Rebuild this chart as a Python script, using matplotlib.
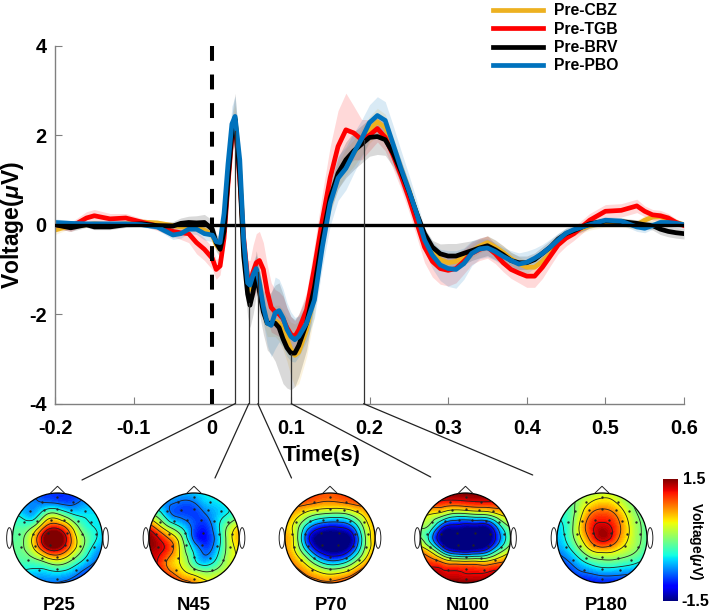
import numpy as np
import matplotlib
matplotlib.use("Agg")
import matplotlib.pyplot as plt
from matplotlib.patches import Circle, ConnectionPatch, Ellipse, Polygon
from matplotlib.tri import Triangulation, UniformTriRefiner

plt.rcParams['font.family'] = ['Liberation Sans', 'DejaVu Sans']
plt.rcParams['font.weight'] = 'bold'
plt.rcParams['mathtext.fontset'] = 'custom'
plt.rcParams['mathtext.it'] = 'Liberation Sans:italic:bold'
plt.rcParams['mathtext.rm'] = 'Liberation Sans:bold'

TIME = [-.2, -.18, -.16, -.15, -.13, -.11, -.09, -.07, -.05, -.04, -.03, -.02, -.01,
        0, .005, .01, .015, .02, .025, .029,
        .035, .04, .045, .048, .052, .056, .06,
        .065, .07, .075, .08, .085, .09, .095,
        .10, .105, .11, .12, .13, .14, .15,
        .16, .17, .18, .19, .20, .21, .22,
        .23, .24, .25, .26, .27, .28, .29,
        .30, .31, .32, .33, .34, .35, .36,
        .37, .38, .39, .40, .41, .42, .43,
        .44, .45, .46, .48, .50, .52, .54,
        .55, .56, .57, .58, .59, .60]

CBZ = [-.12, -.02, 0, .02, .0, .02, .06, .04, -.02, -.05, -.06, -.08, -.12,
       -.22, -.45, -.55, -.1, 1.1, 2.1, 2.38,
       1.2, -.4, -1.3, -1.45, -1.2, -1.0, -1.3,
       -1.9, -2.2, -2.2, -2.15, -2.2, -2.35, -2.55,
       -2.78, -2.92, -2.85, -2.35, -1.55, -.4, .55,
       1.1, 1.4, 1.6, 1.85, 2.12, 2.3, 2.17,
       1.72, 1.25, .78, .25, -.3, -.6, -.78,
       -.85, -.82, -.72, -.6, -.48, -.4, -.5,
       -.62, -.76, -.87, -.95, -.95, -.82, -.65,
       -.4, -.25, -.15, -.02, .05, .05, .0,
       .1, .17, .18, .12, .05, .0]
TGB = [.0, -.05, .15, .2, .13, .15, .06, -.03, -.15, -.18, -.2, -.4, -.55,
       -.75, -1.0, -.92, -.3, .9, 1.95, 2.33,
       1.0, -.3, -1.2, -1.3, -1.05, -.85, -.8,
       -1.0, -1.5, -1.85, -1.95, -2.0, -2.1, -2.3,
       -2.45, -2.5, -2.35, -1.9, -.95, .1, 1.05,
       1.75, 2.12, 2.05, 1.9, 2.0, 2.15, 1.95,
       1.55, 1.1, .6, .05, -.5, -.82, -.98,
       -1.02, -.98, -.82, -.64, -.55, -.5, -.65,
       -.85, -1.0, -1.08, -1.15, -1.15, -.95, -.7,
       -.45, -.3, -.2, .1, .3, .32, .42,
       .3, .22, .2, .15, .05, -.02]
BRV = [.0, -.07, .0, -.05, -.05, .0, .02, -.02, -.03, .03, .05, .04, .05,
       -.1, -.4, -.55, -.15, 1.0, 2.05, 2.36,
       1.1, -.7, -1.55, -1.8, -1.5, -1.08, -1.5,
       -1.95, -2.2, -2.2, -2.2, -2.3, -2.55, -2.75,
       -2.87, -2.87, -2.7, -2.2, -1.4, -.3, .6,
       1.15, 1.45, 1.65, 1.8, 1.95, 1.97, 1.9,
       1.6, 1.2, .75, .25, -.2, -.5, -.65,
       -.7, -.7, -.64, -.58, -.52, -.47, -.56,
       -.67, -.8, -.85, -.85, -.78, -.64, -.5,
       -.32, -.2, -.13, .02, .08, .07, .03,
       .0, -.02, -.1, -.15, -.18, -.2]
PBO = [.05, .03, .02, .02, .02, .02, .0, -.05, -.23, -.2, -.1, -.1, -.2,
       -.23, -.38, -.4, .25, 1.35, 2.25, 2.42,
       1.45, -.35, -1.3, -1.35, -1.12, -.98, -1.3,
       -1.83, -2.2, -2.25, -1.97, -1.92, -2.08, -2.34,
       -2.5, -2.57, -2.5, -2.2, -1.68, -.5, .48,
       1.04, 1.26, 1.6, 1.92, 2.28, 2.44, 2.33,
       1.8, 1.26, .77, .25, -.34, -.68, -.9,
       -.98, -1.0, -.87, -.64, -.54, -.52, -.6,
       -.71, -.8, -.88, -.84, -.75, -.64, -.5,
       -.34, -.19, -.11, .0, .1, .08, -.05,
       -.08, -.02, .05, .05, .03, .0]

ERR_CBZ = [.1, .06, .06, .06, .05, .06, .06, .06, .06, .06, .07, .08, .1,
           .12, .12, .12, .12, .2, .25, .3,
           .3, .3, .3, .3, .3, .3, .3,
           .3, .3, .3, .35, .4, .45, .5,
           .6, .7, .7, .6, .45, .3, .3,
           .3, .3, .3, .3, .3, .3, .3,
           .25, .2, .15, .12, .12, .12, .15,
           .15, .15, .15, .15, .15, .15, .15,
           .15, .15, .15, .15, .15, .12, .12,
           .1, .1, .1, .1, .1, .1, .1,
           .1, .1, .1, .1, .08, .06]
ERR_TGB = [.08, .1, .14, .14, .12, .1, .08, .1, .12, .15, .2, .25, .25,
           .25, .22, .2, .2, .2, .2, .2,
           .2, .3, .4, .5, .6, .65, .65,
           .6, .6, .55, .5, .5, .5, .45,
           .4, .35, .35, .4, .5, .6, .7,
           .8, .82, .6, .45, .35, .3, .3,
           .3, .3, .3, .32, .35, .35, .35,
           .35, .32, .28, .25, .25, .25, .22,
           .2, .2, .22, .25, .25, .25, .22,
           .2, .18, .15, .15, .15, .15, .15,
           .12, .12, .12, .1, .08, .06]
ERR_BRV = [.08, .08, .06, .06, .06, .06, .06, .08, .1, .12, .14, .16, .18,
           .2, .2, .18, .2, .25, .4, .58,
           .5, .5, .5, .5, .5, .5, .5,
           .5, .6, .7, .85, 1.0, 1.0, .9,
           .82, .75, .7, .6, .4, .3, .3,
           .35, .4, .42, .42, .42, .4, .35,
           .3, .25, .2, .15, .12, .15, .22,
           .28, .28, .25, .22, .22, .22, .22,
           .2, .18, .15, .15, .15, .15, .15,
           .12, .12, .1, .1, .08, .08, .08,
           .08, .1, .12, .12, .12, .12]
ERR_PBO = [.08, .06, .05, .05, .05, .05, .05, .06, .1, .1, .1, .12, .14,
           .15, .15, .15, .2, .3, .4, .45,
           .35, .3, .3, .3, .3, .3, .3,
           .35, .5, .7, .8, .7, .65, .6,
           .55, .5, .45, .4, .4, .45, .5,
           .5, .48, .45, .42, .4, .42, .42,
           .42, .4, .35, .3, .25, .3, .35,
           .4, .42, .35, .28, .22, .2, .2,
           .2, .22, .25, .25, .22, .2, .18,
           .15, .12, .1, .08, .08, .08, .1,
           .1, .08, .08, .08, .08, .06]

SERIES_NAMES = ['Pre-CBZ', 'Pre-TGB', 'Pre-BRV', 'Pre-PBO']
SERIES_VALUES = [CBZ, TGB, BRV, PBO]
SERIES_ERRS = [ERR_CBZ, ERR_TGB, ERR_BRV, ERR_PBO]
SERIES_COLORS = ['#EDB120', '#FF0000', '#000000', '#0072BD']

PEAK_TIMES = [.029, .0465, .058, .1005, .1925]
PEAK_TOPS = [2.1, -1.75, -1.05, -2.9, 1.9]

TOPO_NAMES = ['P25', 'N45', 'P70', 'N100', 'P180']
P25 = [[-.95, -.95, -.95, -.95, -.95, -.95, -.95, -.95, -.95],
       [-.75, -.75, -.75, -.8, -.85, -.9, -.75, -.65, -.6],
       [-.4, -.5, -.6, -.05, .05, -.3, -.45, -.45, -.4],
       [-.2, -.2, 0, .8, 1.0, .5, -.15, -.4, -.45],
       [-.1, -.05, .55, 1.55, 1.75, .95, .15, -.3, -.55],
       [-.1, -.05, .35, 1.05, 1.25, .7, .05, -.5, -.75],
       [-.2, -.2, -.15, .05, .25, 0, -.4, -.75, -.95],
       [-.5, -.5, -.55, -.55, -.5, -.6, -.85, -1.05, -1.05],
       [-.9, -.9, -.9, -.85, -.85, -.95, -1.05, -1.15, -1.15]]
N45 = [[-.5, -.5, -.55, -.55, -.5, -.4, -.3, -.2, -.2],
       [-.4, -.6, -.75, -.85, -.8, -.55, -.45, -.3, -.2],
       [0, -.2, -.75, -.9, -.95, -.8, -.55, -.35, -.15],
       [1.1, .5, -.1, -.5, -.9, -1.0, -.5, .1, .5],
       [1.55, 1.2, .7, 0, -.9, -1.1, -.6, .25, .65],
       [1.4, 1.3, .95, .2, -.5, -.9, -.5, .2, .5],
       [1.3, 1.15, .65, .3, -.3, -.6, -.25, .25, .4],
       [1.35, 1.2, .9, .55, .3, .1, .2, .35, .45],
       [1.45, 1.4, 1.3, 1.1, .85, .55, .45, .45, .45]]
P70 = [[1.15, 1.15, 1.1, 1.0, .95, 1.0, 1.1, 1.15, 1.15],
       [.95, .95, .9, .8, .75, .8, .9, 1.0, 1.0],
       [.7, .6, .25, 0, -.1, -.1, .15, .55, .8],
       [.6, .3, -.5, -1.0, -1.15, -1.1, -.7, .2, .65],
       [.7, .3, -.95, -1.6, -1.75, -1.7, -1.25, 0, .65],
       [.8, .4, -.5, -1.3, -1.6, -1.55, -.95, .1, .7],
       [1.0, .7, .25, -.35, -.7, -.6, -.1, .55, 1.05],
       [1.15, 1.0, .75, .5, .35, .45, .75, 1.2, 1.4],
       [1.25, 1.2, 1.1, 1.0, .95, 1.1, 1.3, 1.5, 1.6]]
N100 = [[1.65, 1.65, 1.6, 1.55, 1.55, 1.55, 1.6, 1.65, 1.65],
        [1.3, 1.2, 1.1, 1.05, 1.1, 1.15, 1.15, 1.15, 1.15],
        [.55, .4, .2, -.1, -.1, 0, .1, .45, .6],
        [0, -.1, -1.0, -1.3, -1.4, -1.4, -1.3, -.4, .15],
        [.1, -.55, -1.6, -1.75, -1.8, -1.8, -1.65, -.75, .05],
        [.7, .25, -.75, -1.4, -1.55, -1.4, -1.0, -.2, .4],
        [1.1, 1.0, .75, .5, .45, .45, .5, .75, 1.0],
        [1.4, 1.4, 1.3, 1.25, 1.2, 1.2, 1.25, 1.3, 1.3],
        [1.65, 1.65, 1.6, 1.6, 1.6, 1.6, 1.6, 1.6, 1.6]]
P180 = [[-.1, -.1, 0, .1, .2, .2, 0, -.1, -.1],
        [-.25, -.2, .1, .4, .55, .45, .15, -.1, -.2],
        [-.4, -.25, .2, .8, 1.0, .85, .4, 0, -.2],
        [-.5, -.3, .35, 1.05, 1.3, 1.1, .55, .1, -.2],
        [-.6, -.35, .25, .9, 1.35, 1.05, .5, .1, -.2],
        [-.75, -.55, -.1, .4, .6, .5, .25, 0, -.3],
        [-1, -.85, -.55, -.25, -.1, -.1, -.2, -.35, -.6],
        [-1.2, -1.1, -.9, -.8, -.7, -.7, -.75, -.85, -.95],
        [-1.3, -1.3, -1.25, -1.2, -1.15, -1.15, -1.2, -1.25, -1.25]]
TOPO_VALUES = [P25, N45, P70, N100, P180]

ELEC_X = [0, -.35, .35, -.6, -.3, 0, .3, .6, -.75, -.45, -.15, .15, .45, .75,
          -.85, -.55, -.2, .2, .55, .85, -.8, -.5, -.17, .17, .5, .8,
          -.65, -.35, 0, .35, .65, -.4, 0, .4, 0]
ELEC_Y = [.92, .8, .8, .6, .62, .64, .62, .6, .35, .38, .4, .4, .38, .35,
          .08, .1, .12, .12, .1, .08, -.2, -.18, -.16, -.16, -.18, -.2,
          -.48, -.45, -.43, -.45, -.48, -.72, -.68, -.72, -.92]
CONTOUR_LEVELS = [-1.2, -.8, -.4, 0, .4, .8, 1.2]

W, H = 709, 614
fig = plt.figure(figsize=(W / 100, H / 100), dpi=100)


def rect(x0, y0, x1, y1):
    """Pixel box (top-left origin) to figure fractions."""
    return [x0 / W, 1 - y1 / H, (x1 - x0) / W, (y1 - y0) / H]


ax = fig.add_axes(rect(55, 45.7, 684, 403.7))
t = np.array(TIME)
for vals, errs, col in zip(SERIES_VALUES, SERIES_ERRS, SERIES_COLORS):
    v, e = np.array(vals), np.array(errs)
    ax.fill_between(t, v - e, v + e, color=col, alpha=0.15, lw=0)
for vals, col, name in zip(SERIES_VALUES, SERIES_COLORS, SERIES_NAMES):
    ax.plot(t, vals, color=col, lw=3.4, solid_joinstyle='round', label=name)

ax.plot([-.2, .6], [0, 0], color='k', lw=2.4, zorder=5)
ax.plot([0, 0], [-4, 4], color='k', lw=2.9, dashes=(3.7, 3.4), dash_capstyle='butt', zorder=5)
for pt, top in zip(PEAK_TIMES, PEAK_TOPS):
    ax.plot([pt, pt], [-4, top], color='#333333', lw=0.9, zorder=6)

ax.set_xlim(-.2, .6)
ax.set_ylim(-4, 4)
ax.set_xticks(np.arange(-.2, .61, .1))
ax.set_xticklabels(['-0.2', '-0.1', '0', '0.1', '0.2', '0.3', '0.4', '0.5', '0.6'])
ax.set_yticks([-4, -2, 0, 2, 4])
ax.set_yticklabels(['-4', '-2', '0', '2', '4'])
ax.tick_params(direction='in', length=5, width=0.8, color='#808080', labelsize=14.3)
ax.tick_params(axis='y', pad=6)
ax.tick_params(axis='x', pad=11)
for s in ['top', 'right']:
    ax.spines[s].set_visible(False)
for s in ['left', 'bottom']:
    ax.spines[s].set_color('#808080')
    ax.spines[s].set_linewidth(1.0)
for lab in ax.get_xticklabels() + ax.get_yticklabels():
    lab.set_fontweight('bold')
fig.text(322 / W, 1 - 455 / H, 'Time(s)', ha='center', va='center', fontsize=15.8, fontweight='bold')
fig.text(12 / W, 1 - 225 / H, r'Voltage($\mu$V)', ha='center', va='center', rotation=90,
         fontsize=16.5, fontweight='bold')

fig.legend(*ax.get_legend_handles_labels(), loc='upper left',
           bbox_to_anchor=(490 / W, 1 - 0 / H), frameon=False, fontsize=11.3,
           handlelength=3.2, handletextpad=0.65, labelspacing=0.22, borderpad=0.2,
           borderaxespad=0)

CENTERS = [57.5, 194, 330, 465.5, 602]
LABEL_X = [59, 193.5, 331, 468, 606.7]
CONN_END = [(82, 480), (215, 478), (291.5, 478), (430.7, 477), (532.7, 475)]
CY, R = 538, 45
gx = np.linspace(-1.05, 1.05, 9)
X, Y = np.meshgrid(gx, gx[::-1])
tri = Triangulation(X.ravel(), Y.ravel())
ref = UniformTriRefiner(tri)
pad = 1.32
for cx, lx, grid, name, end, pt in zip(CENTERS, LABEL_X, TOPO_VALUES, TOPO_NAMES, CONN_END, PEAK_TIMES):
    a = fig.add_axes(rect(cx - R * pad, CY - R * pad, cx + R * pad, CY + R * pad))
    a.set_xlim(-pad, pad)
    a.set_ylim(-pad, pad)
    a.axis('off')
    clip = Circle((0, 0), 1, transform=a.transData)
    rt, rz = ref.refine_field(np.array(grid, float).ravel(), subdiv=3)
    cf = a.tricontourf(rt, rz, levels=np.linspace(-1.9, 1.9, 90), cmap='jet', vmin=-1.5, vmax=1.5, extend='both')
    cf.set_clip_path(clip)
    cl = a.tricontour(rt, rz, levels=CONTOUR_LEVELS, colors='#202020', linewidths=0.6, linestyles='solid')
    cl.set_clip_path(clip)
    a.add_patch(Circle((0, 0), 1, fill=False, ec='k', lw=0.9))
    a.plot(ELEC_X, ELEC_Y, ls='none', marker='o', ms=0.7, color='#222222')
    a.add_patch(Polygon([(-.17, .985), (0, 1.15), (.17, .985)], closed=False, fill=False, ec='#222222', lw=0.7))
    for sgn in (-1, 1):
        a.add_patch(Ellipse((sgn * 1.07, 0), .12, .46, fill=False, ec='#222222', lw=0.7))
    fig.text(lx / W, 1 - 605 / H, name, ha='center', va='center', fontsize=13.2, fontweight='bold')
    fig.add_artist(ConnectionPatch(xyA=(pt, -4), coordsA=ax.transData,
                                   xyB=(end[0] / W, 1 - end[1] / H), coordsB=fig.transFigure,
                                   color='#222222', lw=0.9))

cax = fig.add_axes(rect(663, 479, 678, 601))
cax.imshow(np.linspace(1.5, -1.5, 256)[:, None], cmap='jet', vmin=-1.5, vmax=1.5, aspect='auto')
cax.axis('off')
fig.text(683 / W, 1 - 480 / H, '1.5', ha='left', va='center', fontsize=11.5, fontweight='bold')
fig.text(681 / W, 1 - 601 / H, '-1.5', ha='left', va='center', fontsize=11.5, fontweight='bold')
fig.text(696 / W, 1 - 541 / H, r'Voltage($\mu$V)', ha='center', va='center', rotation=-90,
         fontsize=10, fontweight='bold')

fig.savefig('out.png', dpi=100)
